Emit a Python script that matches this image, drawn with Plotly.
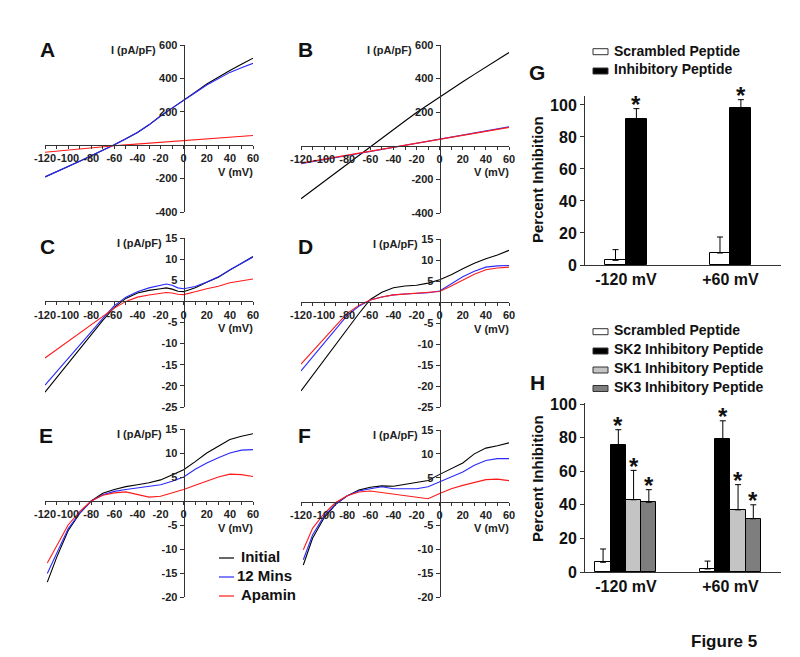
import plotly.graph_objects as go

W, H = 800, 657
FONT = "Liberation Sans, Arial, Helvetica, sans-serif"

# ------------------------- data -------------------------
V_AD = [-120, -110, -100, -90, -80, -70, -60, -50, -40, -30, -20, -10, 0, 10, 20, 30, 40, 50, 60]
V_C = [-120, -110, -100, -90, -80, -70, -60, -50, -40, -30, -20, -15, -10, -5, 0, 5, 10, 20, 30, 40, 50, 60]
V_EF = [-118, -110, -100, -90, -80, -70, -60, -50, -40, -30, -20, -10, 0, 10, 20, 30, 40, 50, 60]

A_initial = [-190, -160, -128, -96, -63, -31, 3, 38, 76, 122, 175, 222, 268, 318, 366, 408, 447, 485, 521]
A_12min = [-190, -160, -128, -96, -63, -31, 3, 38, 76, 122, 175, 222, 266, 314, 360, 400, 436, 464, 490]
A_apamin = [-42, -35, -29, -22, -16, -9, -3, 2, 7, 13, 18, 23, 28, 33, 38, 43, 48, 53, 58]

B_initial = [-315, -263, -211, -159, -107, -55, -5, 46, 96, 148, 198, 245, 292, 337, 381, 425, 469, 512, 555]
B_12min = [-107, -95, -83, -70, -58, -46, -34, -22, -10, 2, 14, 26, 38, 50, 62, 75, 88, 101, 113]
B_apamin = [-103, -91, -79, -67, -55, -43, -31, -19, -8, 4, 16, 28, 40, 52, 64, 76, 88, 100, 110]

C_initial = [-21.5, -18.1, -14.7, -11.3, -7.9, -4.5, -1.4, 0.7, 2.0, 2.6, 3.0, 3.2, 2.9, 2.4, 2.3, 2.7, 3.2, 4.5, 5.7, 7.4, 8.9, 10.6]
C_12min = [-19.8, -16.7, -13.6, -10.4, -7.2, -4.0, -1.0, 1.0, 2.3, 3.2, 3.8, 4.1, 3.8, 3.2, 3.0, 3.2, 3.5, 4.6, 5.8, 7.5, 9.0, 10.5]
C_apamin = [-13.4, -11.4, -9.4, -7.5, -5.6, -3.6, -1.6, 0.0, 1.0, 1.5, 1.9, 2.1, 2.0, 1.7, 1.6, 1.9, 2.3, 3.0, 3.6, 4.4, 4.9, 5.3]

D_initial = [-21.2, -17.5, -13.8, -10.0, -6.3, -2.8, 0.6, 2.3, 3.4, 3.8, 4.0, 4.5, 5.3, 6.5, 7.9, 9.2, 10.3, 11.2, 12.3]
D_12min = [-16.4, -13.1, -9.8, -6.5, -3.2, -1.0, 0.5, 1.2, 1.7, 1.9, 2.0, 2.2, 2.6, 4.2, 6.0, 7.3, 8.3, 8.6, 8.7]
D_apamin = [-14.8, -11.7, -8.7, -5.7, -2.7, -0.8, 0.5, 1.2, 1.7, 1.9, 2.0, 2.2, 2.5, 3.8, 5.2, 6.6, 7.7, 8.1, 8.3]

E_initial = [-16.9, -11.8, -6.2, -2.6, 0.0, 1.6, 2.4, 3.0, 3.4, 3.8, 4.4, 5.5, 6.5, 8.2, 10.0, 11.4, 12.8, 13.5, 14.0]
E_12min = [-15.1, -10.8, -5.8, -2.5, 0.0, 1.3, 2.0, 2.4, 2.7, 3.0, 3.4, 4.1, 5.0, 6.6, 7.9, 9.0, 10.0, 10.6, 10.7]
E_apamin = [-12.9, -9.3, -5.0, -2.2, 0.0, 1.2, 1.7, 1.9, 1.3, 0.8, 1.0, 1.7, 2.4, 3.3, 4.2, 5.0, 5.6, 5.5, 5.1]

F_initial = [-13.3, -7.7, -3.4, -0.6, 1.2, 2.4, 3.0, 3.3, 3.2, 3.6, 4.0, 4.4, 5.7, 6.9, 8.1, 10.0, 11.2, 11.7, 12.3]
F_12min = [-12.2, -7.0, -3.0, -0.5, 1.2, 2.2, 2.7, 3.1, 2.7, 2.7, 2.7, 3.1, 4.1, 5.1, 6.2, 7.6, 8.6, 9.0, 9.0]
F_apamin = [-10.1, -5.6, -2.5, -0.2, 1.2, 2.0, 2.2, 1.9, 1.5, 1.2, 1.0, 0.6, 1.7, 2.7, 3.4, 4.0, 4.6, 4.7, 4.4]

X_TICKS = [-120, -100, -80, -60, -40, -20, 0, 20, 40, 60]
X_TICKTEXT = ["-120", "-100", "-80", "-60", "-40", "-20", "0", "20", "40", "60"]
X_MINOR = [-110, -90, -70, -50, -30, -10, 10, 30, 50]
YT_AB = [-400, -200, 200, 400, 600]
YT_CD = [-25, -20, -15, -10, -5, 5, 10, 15]
YT_EF = [-20, -15, -10, -5, 5, 10, 15]

SERIES_NAMES = ["Initial", "12 Mins", "Apamin"]
SERIES_COLORS = ["#000000", "#2a2aff", "#ff1a1a"]

BAR_CATS = ["-120 mV", "+60 mV"]
G_names = ["Scrambled Peptide", "Inhibitory Peptide"]
G_vals = [[2.9, 7.5], [91.4, 98.0]]
G_errs = [[6.7, 10.0], [6.3, 5.3]]
G_star = [False, True]

H_names = ["Scrambled Peptide", "SK2 Inhibitory Peptide", "SK1 Inhibitory Peptide", "SK3 Inhibitory Peptide"]
H_vals = [[5.8, 1.8], [75.8, 79.4], [43.0, 37.0], [41.5, 31.7]]
H_errs = [[7.9, 4.7], [8.9, 10.6], [17.5, 15.0], [7.5, 8.3]]
H_star = [False, True, True, True]
BAR_COLORS = ["#ffffff", "#000000", "#c4c4c4", "#7e7e7e"]

# ------------------------- layout helpers -------------------------
def px(x):
    return x / W


def py(y):
    return 1 - y / H


def hy(v):
    # tick label with an ASCII hyphen, as in the original figure
    return str(v).replace("\u2212", "-")


fig = go.Figure()
layout = dict(
    width=W, height=H, margin=dict(l=0, r=0, t=0, b=0),
    paper_bgcolor="white", plot_bgcolor="rgba(0,0,0,0)",
    showlegend=False, font=dict(family=FONT, color="#111"),
)
annotations = []
shapes = []

panels = [
    ("A", (37, 245), (37, 204), (-400, 600), YT_AB, V_AD, [A_initial, A_12min, A_apamin], 26),
    ("B", (293, 501), (37, 205), (-400, 600), YT_AB, V_AD, [B_initial, B_12min, B_apamin], 26),
    ("C", (37, 245), (230, 399), (-25, 15), YT_CD, V_C, [C_initial, C_12min, C_apamin], 20),
    ("D", (293, 501), (231, 399), (-25, 15), YT_CD, V_AD, [D_initial, D_12min, D_apamin], 20),
    ("E", (37, 245), (421, 589), (-20, 15), YT_EF, V_EF, [E_initial, E_12min, E_apamin], 20),
    ("F", (293, 501), (422, 589), (-20, 15), YT_EF, V_EF, [F_initial, F_12min, F_apamin], 20),
]
letter_pos = {"A": (39, 41), "B": (297, 41), "C": (39, 238), "D": (297, 238),
              "E": (38, 427), "F": (296, 427), "G": (529, 64), "H": (529, 374)}

tickfont_iv = dict(family=FONT, size=11, color="#222", weight="bold")

for i, (lab, (x0, x1), (y0, y1), (ymin, ymax), ytv, V, curves, ishift) in enumerate(panels):
    n = i + 1
    xk = "xaxis" if n == 1 else f"xaxis{n}"
    yk = "yaxis" if n == 1 else f"yaxis{n}"
    xr = "x" if n == 1 else f"x{n}"
    yr = "y" if n == 1 else f"y{n}"
    # pixel location of the zero lines
    zero_x_px = x0 + (0 - (-120)) / 180 * (x1 - x0)
    zero_y_px = y0 + (ymax - 0) / (ymax - ymin) * (y1 - y0)
    layout[xk] = dict(
        domain=[px(x0), px(x1)], range=[-120, 60], anchor="free", position=py(zero_y_px),
        showline=True, linecolor="#333", linewidth=1, showgrid=False, zeroline=False,
        tickmode="array", tickvals=X_TICKS, ticktext=X_TICKTEXT, ticks="outside", ticklen=3,
        tickcolor="#333", tickangle=0,
        minor=dict(tickmode="array", tickvals=X_MINOR, ticks="outside", ticklen=3, tickcolor="#333"),
        tickfont=tickfont_iv, automargin=False, fixedrange=True,
    )
    layout[yk] = dict(
        domain=[py(y1), py(y0)], range=[ymin, ymax], anchor="free", position=px(zero_x_px),
        showline=True, linecolor="#333", linewidth=1, showgrid=False, zeroline=False,
        tickmode="array", tickvals=ytv, ticktext=[hy(v) for v in ytv], ticks="outside", ticklen=4,
        tickcolor="#333", tickangle=0, tickfont=tickfont_iv, automargin=False, fixedrange=True,
    )
    for name, color, I in zip(SERIES_NAMES, SERIES_COLORS, curves):
        fig.add_trace(go.Scatter(x=V, y=I, mode="lines", name=name,
                                 line=dict(color=color, width=1.1),
                                 xaxis=xr, yaxis=yr, showlegend=False))
    annotations.append(dict(text="I (pA/pF)", xref="paper", yref="paper",
                            x=px(zero_x_px - ishift), y=py(y0 + 5), xanchor="right", yanchor="middle",
                            showarrow=False, font=dict(family=FONT, size=11, color="#222", weight="bold")))
    annotations.append(dict(text="V (mV)", xref="paper", yref="paper",
                            x=px(x1 + 2), y=py(zero_y_px + 26.5), xanchor="right", yanchor="middle",
                            showarrow=False, font=dict(family=FONT, size=11, color="#222", weight="bold")))

# ------------------------- bar panels -------------------------
bar_tick = dict(family=FONT, size=16, color="#111", weight="bold")


def bar_panel(n, ydom_px, yrange, names, vals, errs, stars, width, offsets):
    xk, yk = f"xaxis{n}", f"yaxis{n}"
    xr, yr = f"x{n}", f"y{n}"
    layout[xk] = dict(domain=[px(577), px(773)], range=[-0.392, 1.484], anchor=yr,
                      showline=True, linecolor="#333", linewidth=1, showgrid=False, zeroline=False,
                      tickmode="array", tickvals=list(range(len(BAR_CATS))), ticktext=BAR_CATS,
                      ticks="", tickangle=0, tickfont=bar_tick, automargin=False, fixedrange=True)
    layout[yk] = dict(domain=[py(ydom_px[1]), py(ydom_px[0])], range=yrange, anchor=xr,
                      showline=True, linecolor="#333", linewidth=1, showgrid=False, zeroline=False,
                      tickmode="array", tickvals=[0, 20, 40, 60, 80, 100], ticks="outside",
                      ticklen=4, tickcolor="#333", tickfont=bar_tick, automargin=False, fixedrange=True)
    for k, (nm, v, e, st) in enumerate(zip(names, vals, errs, stars)):
        xs = [j + offsets[k] for j in range(len(BAR_CATS))]
        fig.add_trace(go.Bar(x=xs, y=v, width=width, name=nm, xaxis=xr, yaxis=yr,
                             marker=dict(color=BAR_COLORS[k], line=dict(color="#000", width=1)),
                             error_y=dict(type="data", array=e, arrayminus=[0] * len(e), symmetric=False,
                                          color="#000", thickness=1, width=3),
                             showlegend=False))
        if st:
            for xx, vv, ee in zip(xs, v, e):
                annotations.append(dict(text="*", xref=xr, yref=yr, x=xx, y=vv + ee,
                                        xanchor="center", yanchor="middle", yshift=4, showarrow=False,
                                        font=dict(family=FONT, size=24, color="#111", weight="bold")))


bar_panel(7, (88, 257), [0, 105.6], G_names, G_vals, G_errs, G_star, 0.2, [-0.1, 0.1])
bar_panel(8, (395, 564), [0, 100.6], H_names, H_vals, H_errs, H_star, 0.146,
          [-0.219, -0.073, 0.073, 0.219])

# y titles for bar panels
for ycen in (172, 471):
    annotations.append(dict(text="Percent Inhibition", xref="paper", yref="paper", x=px(529), y=py(ycen),
                            textangle=-90, xanchor="center", yanchor="middle", showarrow=False,
                            font=dict(family=FONT, size=15, color="#111", weight="bold")))

# custom legends for bar panels
legend_font = dict(family=FONT, size=14, color="#111", weight="bold")
for names, rows, box_ys in ((G_names, (43, 61), (43.7, 63)),
                            (H_names, (322, 341, 360, 379), (323.7, 343, 362, 380.5))):
    for k, (nm, ty, by) in enumerate(zip(names, rows, box_ys)):
        shapes.append(dict(type="rect", xref="paper", yref="paper", x0=px(585), x1=px(600),
                           y0=py(by + 3), y1=py(by - 3), fillcolor=BAR_COLORS[k],
                           line=dict(color="#333", width=1)))
        annotations.append(dict(text=nm, xref="paper", yref="paper", x=px(604), y=py(ty),
                                xanchor="left", yanchor="middle", showarrow=False, font=legend_font))

# custom legend for IV curves
iv_leg = [(548, 550, 231), (567, 569, 227), (586, 588, 231)]
for (ty, ly, tx), nm, col in zip(iv_leg, SERIES_NAMES, SERIES_COLORS):
    shapes.append(dict(type="line", xref="paper", yref="paper", x0=px(211), x1=px(226),
                       y0=py(ly), y1=py(ly), line=dict(color=col, width=1.2)))
    annotations.append(dict(text=nm, xref="paper", yref="paper", x=px(tx), y=py(ty),
                            xanchor="left", yanchor="middle", showarrow=False,
                            font=dict(family=FONT, size=15, color="#111", weight="bold")))

# panel letters
for lab, (lx, ly) in letter_pos.items():
    annotations.append(dict(text=lab, xref="paper", yref="paper", x=px(lx), y=py(ly),
                            xanchor="center", yanchor="middle", showarrow=False,
                            font=dict(family=FONT, size=21, color="#111", weight="bold")))

annotations.append(dict(text="Figure 5", xref="paper", yref="paper", x=px(681), y=py(633),
                        xanchor="left", yanchor="middle", showarrow=False,
                        font=dict(family=FONT, size=17, color="#111", weight="bold")))

layout["annotations"] = annotations
layout["shapes"] = shapes
layout["bargap"] = 0
fig.update_layout(**layout)
fig.write_html("out.html")
